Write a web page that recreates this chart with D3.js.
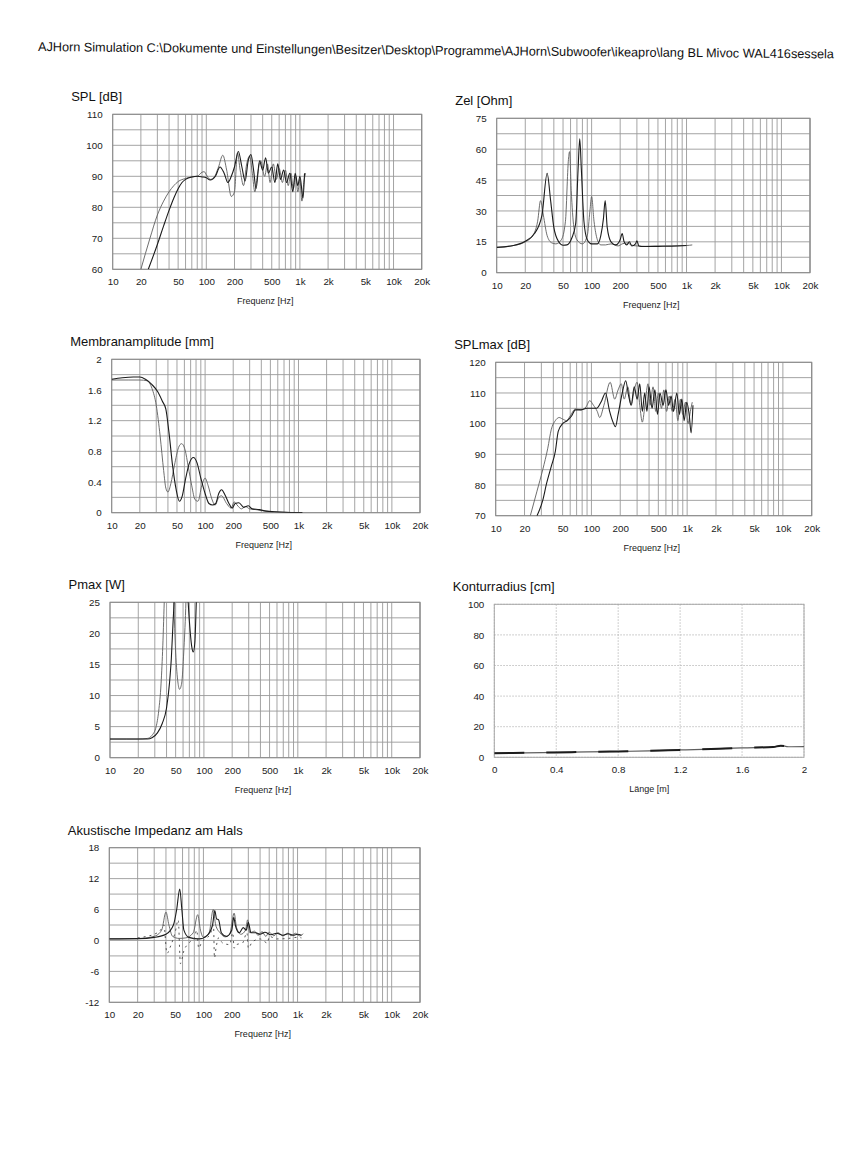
<!DOCTYPE html>
<html><head><meta charset="utf-8">
<script src="https://cdn.jsdelivr.net/npm/d3@7"></script>
<style>body{margin:0;background:#fff;overflow:hidden} svg{display:block}</style>
</head><body>
<svg id="c" width="851" height="1165"></svg>
<script>
// ---------- text ----------
const headerText = "AJHorn Simulation C:\\Dokumente und Einstellungen\\Besitzer\\Desktop\\Programme\\AJHorn\\Subwoofer\\ikeapro\\lang BL Mivoc WAL416sessela";
const freqLabel = "Frequenz [Hz]";
const lengthLabel = "Länge [m]";

// ---------- tick values ----------
const freqTicks = [10,20,50,100,200,500,1000,2000,5000,10000,20000];
const freqTickLabels = ["10","20","50","100","200","500","1k","2k","5k","10k","20k"];
const splTicks = [60,70,80,90,100,110];
const zelTicks = [0,15,30,45,60,75];
const membTicks = [0,0.4,0.8,1.2,1.6,2];
const membTickLabels = ["0","0.4","0.8","1.2","1.6","2"];
const splmaxTicks = [70,80,90,100,110,120];
const pmaxTicks = [0,5,10,15,20,25];
const konturYTicks = [0,20,40,60,80,100];
const konturXTicks = [0,0.4,0.8,1.2,1.6,2];
const konturXTickLabels = ["0","0.4","0.8","1.2","1.6","2"];
const akustTicks = [-12,-6,0,6,12,18];

// ---------- series [frequency Hz, value] ----------
const splA = [[20,60],[25,70],[30,77.5],[35,82],[40,85],[45,87],[50,88.3],[60,89.3],[70,89.8],[80,90],[90,91.3],[95,91.5],[100,90.5],[110,89],[120,89.5],[135,93],[150,96.8],[165,92],[185,83.5],[200,85],[215,97.5],[230,92],[250,87],[270,94],[290,96.5],[310,91],[330,85],[350,90],[380,95],[420,90],[450,94],[480,88],[520,94],[560,89],[600,92.5],[650,88],[700,92],[750,87],[800,91],[850,86],[900,90],[950,85],[1000,89],[1050,82],[1100,88],[1150,91]];
const splB = [[24,60],[30,68],[35,74],[40,79],[45,83],[50,86],[55,88],[60,89],[70,89.8],[80,90],[90,89.8],[100,89.5],[110,88.8],[125,90],[140,93],[155,91],[170,88],[185,90],[200,93],[220,98],[240,93],[260,88.5],[280,95],[300,97],[320,92],[340,86],[370,95],[400,92],[430,96],[460,91],[500,93],[540,88],[580,94],[620,89],[670,92],[720,88],[780,91],[840,85],[890,91],[950,87],[1000,90],[1080,83],[1120,91]];

const zelA = [[10,12.3],[15,13.2],[20,15],[24,18],[27,25],[29,35],[31,28],[34,18],[38,14.5],[42,14],[48,16],[53,25],[57,55],[58.6,58.8],[61,40],[65,22],[70,16],[80,14],[90,18],[96,30],[100,37],[106,25],[115,16],[125,13.5],[140,13.5],[160,14],[190,13],[210,14],[240,14.5],[260,13.5],[300,13],[400,12.8],[600,13],[1000,13.2],[1150,13.5]];
const zelB = [[10,12.3],[15,13.2],[20,15.3],[25,19],[30,28],[34,48.3],[37,35],[40,22],[45,15],[50,13.3],[55,13.5],[62,17],[68,24],[72,50],[75,65],[78,50],[83,25],[90,16],[100,14],[115,14],[125,18],[133,26],[139,35],[146,22],[160,15],[180,13.5],[200,16],[210,19],[220,15],[235,13.5],[250,15],[265,13],[290,14],[300,15.5],[315,13],[350,12.7],[500,12.8],[800,13],[1000,13.2]];

const membA = [[10,1.73],[15,1.73],[20,1.73],[24,1.72],[27,1.62],[30,1.4],[33,1.0],[36,0.55],[38,0.32],[40,0.27],[43,0.38],[47,0.62],[52,0.85],[56,0.9],[61,0.82],[66,0.6],[72,0.35],[78,0.17],[84,0.15],[92,0.35],[100,0.45],[108,0.35],[118,0.18],[128,0.1],[140,0.2],[150,0.22],[170,0.12],[190,0.06],[205,0.14],[220,0.1],[245,0.05],[270,0.08],[300,0.05],[350,0.04],[420,0.025],[500,0.015],[650,0.008],[850,0.003],[1100,0.001]];
const membB = [[10,1.74],[13,1.76],[17,1.77],[20,1.77],[23,1.74],[27,1.67],[31,1.58],[35,1.45],[38,1.35],[41,1.05],[45,0.6],[49,0.3],[53,0.15],[57,0.22],[62,0.45],[68,0.65],[75,0.72],[82,0.65],[90,0.45],[100,0.25],[110,0.12],[120,0.1],[130,0.12],[140,0.25],[150,0.3],[165,0.22],[180,0.12],[195,0.06],[210,0.12],[230,0.13],[260,0.07],[290,0.09],[320,0.05],[380,0.04],[450,0.02],[550,0.012],[700,0.006],[900,0.002],[1100,0.001]];

const splmaxA = [[23,70],[27,78],[31,85],[35,92],[38,98],[42,101],[46,102],[50,101.5],[55,101],[60,102.5],[68,104.8],[78,104.5],[88,105.5],[96,107.5],[105,106],[115,104],[122,102],[135,106],[157,113.5],[175,108],[190,111],[205,113],[220,108],[240,112],[260,106],[280,111],[300,113.5],[320,106],[340,100.5],[365,107],[390,113],[410,106],[440,112],[470,104],[500,110],[540,105],[570,111],[610,104],[650,109],[700,104],[750,108],[800,101],[850,108],[900,103],[960,107],[1020,100],[1080,104],[1130,107]];
const splmaxB = [[27,70],[31,75],[34,80.5],[38,86],[42,91],[45,97.5],[50,100],[56,101],[62,102.5],[68,104.5],[78,104.5],[90,105],[100,105],[113,105],[128,107.5],[140,110],[155,104],[168,100.5],[178,99],[190,103],[210,110],[228,114],[245,109],[260,106],[280,112],[300,108],[320,113],[340,104],[360,110],[380,104],[400,112],[430,105],[460,111],[490,103],[520,110],[560,106],[600,111],[640,106],[680,109],[720,104],[780,110],[830,103],[880,108],[930,101],[990,107],[1050,103],[1100,97],[1150,106]];

const pmaxA = [[10,3],[15,3],[20,3],[25,3.1],[28,3.6],[31,5],[33,7.5],[35,12],[36.5,18],[38,26],[42,40],[47,28],[50,17],[53,12],[55,11],[58,12],[61,17],[64,24],[67,35],[80,60],[100,90]];
const pmaxB = [[10,3],[15,3],[20,3],[25,3],[28,3.2],[32,4],[36,5.5],[40,8],[43,12],[45,16],[47,22],[49,27],[55,40],[65,30],[70,22],[74,18],[77,17],[80,18.5],[83,25],[86,32],[100,60]];

// Konturradius: [length m, radius cm]
const konturA = [[0,2.7],[0.2,2.9],[0.4,3.2],[0.6,3.5],[0.8,3.8],[1.0,4.2],[1.2,4.8],[1.4,5.4],[1.6,6.2],[1.8,6.7],[1.85,7.6],[1.9,6.9],[2.0,7.0]];

const akustA = [[10,0.3],[20,0.35],[30,0.8],[36,2],[40,5.5],[43,3],[47,0.8],[55,0.4],[65,0.5],[78,1.5],[87,5],[93,2],[100,0.6],[115,1.5],[127,6],[135,3],[150,1.5],[170,0.7],[190,1.2],[212,5.3],[225,2.5],[250,1.2],[280,2],[295,4],[310,1.5],[350,1.8],[380,1],[420,1.7],[460,0.8],[500,1.6],[560,0.9],[620,1.5],[700,0.9],[780,1.4],[850,0.9],[950,1.4],[1050,0.9],[1150,1.3]];
const akustB = [[10,0.3],[20,0.35],[30,0.6],[40,1.2],[48,3],[52,6],[56,10],[59,6],[62,2],[70,0.6],[90,0.3],[110,1],[125,3],[132,5.8],[138,4.2],[145,4],[155,1.5],[175,0.8],[200,2],[210,4.5],[218,3],[240,1.5],[265,2.5],[285,2],[300,3.5],[320,1.5],[360,1.5],[400,1.2],[450,1.6],[520,1.1],[600,1.4],[700,1.0],[800,1.3],[900,1.0],[1000,1.2],[1100,1.0]];
const akustImag = [[20,0.5],[25,0.8],[30,1.2],[35,2],[38,3],[41,-2.5],[45,-1],[50,1.5],[54,4],[57,-4.5],[62,-2],[70,-0.5],[80,0.5],[85,2],[89,-1.5],[95,-0.5],[120,1.5],[128,3],[131,-3.4],[136,-1.5],[145,0.5],[160,-0.5],[190,-0.8],[205,1.5],[212,-1.5],[225,-0.8],[260,-0.5],[290,1.5],[300,-1.5],[330,-0.3],[400,0.3],[480,-0.5],[500,0.8],[600,0.3],[800,0.4],[1000,0.6],[1100,0.5]];

// ---------- layout ----------
const BLACK = "#1c1c1c", GRAY = "#5e5e5e", GRID = "#9a9a9a";
const panels = [
  {title:"SPL [dB]", box:[112.7,114.3,421.7,269.3], y:[60,110], yTicks:splTicks, yStep:5,
   series:[{d:splA,c:GRAY,w:0.9},{d:splB,c:BLACK,w:1.1}]},
  {title:"Zel [Ohm]", box:[496.7,118.3,810,272.7], y:[0,75], yTicks:zelTicks, yStep:7.5,
   series:[{d:zelA,c:GRAY,w:0.9},{d:zelB,c:BLACK,w:1.1}]},
  {title:"Membranamplitude [mm]", box:[111.7,359.3,420,512.7], y:[0,2], yTicks:membTicks, yLabels:membTickLabels, yStep:0.2,
   series:[{d:membA,c:GRAY,w:0.9},{d:membB,c:BLACK,w:1.1}]},
  {title:"SPLmax [dB]", box:[495.7,362.3,811.7,515.7], y:[70,120], yTicks:splmaxTicks, yStep:5,
   series:[{d:splmaxA,c:GRAY,w:0.9},{d:splmaxB,c:BLACK,w:1.1}]},
  {title:"Pmax [W]", box:[110,602.3,420,757.7], y:[0,25], yTicks:pmaxTicks, yStep:2.5,
   series:[{d:pmaxA,c:GRAY,w:0.9},{d:pmaxB,c:BLACK,w:1.1}]},
  {title:"Konturradius [cm]", box:[494.3,604.3,804,757.3], y:[0,100], yTicks:konturYTicks, yStep:20, linear:true,
   series:[{d:konturA,c:GRAY,w:1.2},{d:konturA,c:BLACK,w:2,dash:"30,22"}]},
  {title:"Akustische Impedanz am Hals", box:[109.3,847.7,420,1002.3], y:[-12,18], yTicks:akustTicks, yStep:3,
   series:[{d:akustA,c:GRAY,w:0.9},{d:akustB,c:BLACK,w:1.1},{d:akustImag,c:"#444",w:0.9,dash:"2,4"}]}
];

const svg = d3.select("#c");
const FONT = "'Liberation Sans', Arial, sans-serif";

svg.append("text")
  .attr("x",38).attr("y",51)
  .attr("transform","rotate(0.53,38,51)")
  .attr("font-family",FONT).attr("font-size",12.7).attr("fill","#111")
  .text(headerText);

// log grid values
const logGrid = [];
[10,100,1000,10000].forEach(d=>{ for(let m=1;m<=9;m++){ const v=d*m; if(v<=20000) logGrid.push(v);} });
logGrid.push(20000);

panels.forEach((p,i)=>{
  const [L,T,R,B] = p.box;
  const g = svg.append("g");
  const x = p.linear ? d3.scaleLinear().domain([0,2]).range([L,R])
                     : d3.scaleLog().domain([10,20000]).range([L,R]);
  const y = d3.scaleLinear().domain(p.y).range([B,T]);

  // grid
  const yGrid = d3.range(p.y[0], p.y[1]+1e-9, p.yStep);
  const xGrid = p.linear ? konturXTicks : logGrid;
  const gridStyle = sel => p.linear
      ? sel.attr("stroke","#b0b0b0").attr("stroke-width",0.8).attr("stroke-dasharray","1.5,1.5")
      : sel.attr("stroke",GRID).attr("stroke-width",0.9);
  g.append("g").selectAll("line").data(yGrid).join("line")
    .attr("x1",L).attr("x2",R).attr("y1",d=>y(d)).attr("y2",d=>y(d)).call(gridStyle);
  g.append("g").selectAll("line").data(xGrid).join("line")
    .attr("y1",T).attr("y2",B).attr("x1",d=>x(d)).attr("x2",d=>x(d)).call(gridStyle);
  g.append("rect").attr("x",L).attr("y",T).attr("width",R-L).attr("height",B-T)
    .attr("fill","none").attr("stroke", p.linear ? "#a8a8a8" : "#8a8a8a").attr("stroke-width",1);

  // clip
  const cid = "clip"+i;
  svg.append("clipPath").attr("id",cid).append("rect")
    .attr("x",L).attr("y",T).attr("width",R-L).attr("height",B-T);

  const line = d3.line().x(d=>x(d[0])).y(d=>y(d[1])).curve(d3.curveMonotoneX);
  const sg = g.append("g").attr("clip-path",`url(#${cid})`);
  p.series.forEach(s=>{
    sg.append("path").attr("d",line(s.d)).attr("fill","none")
      .attr("stroke",s.c).attr("stroke-width",s.w)
      .attr("stroke-dasharray",s.dash||null).attr("stroke-linejoin","round");
  });

  // axes
  const xAxis = d3.axisBottom(x).tickSize(0).tickPadding(9)
     .tickValues(p.linear ? konturXTicks : freqTicks)
     .tickFormat((d,k)=> p.linear ? konturXTickLabels[k] : freqTickLabels[k]);
  const ax = g.append("g").attr("transform",`translate(0,${B})`).call(xAxis);
  const yAxis = d3.axisLeft(y).tickSize(0).tickPadding(10).tickValues(p.yTicks)
     .tickFormat((d,k)=> p.yLabels ? p.yLabels[k] : String(d));
  const ay = g.append("g").attr("transform",`translate(${L},0)`).call(yAxis);
  [ax,ay].forEach(a=>{
    a.select(".domain").remove();
    a.selectAll("text").attr("font-family",FONT).attr("font-size",9.8).attr("fill","#222");
  });

  g.append("text").attr("x",(L+R)/2 - (p.linear?0:2)).attr("y",B+35)
    .attr("text-anchor","middle").attr("font-family",FONT).attr("font-size",9).attr("fill","#222")
    .text(p.linear ? lengthLabel : freqLabel);

  g.append("text").attr("x",L-41.5).attr("y",T-13)
    .attr("font-family",FONT).attr("font-size",13).attr("fill","#111")
    .text(p.title);
});
</script>
</body></html>
